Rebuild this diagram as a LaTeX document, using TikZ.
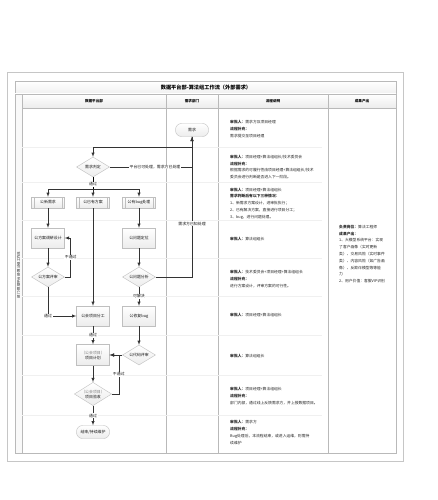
\documentclass[tikz,border=0pt]{standalone}
\usepackage{fontspec}
\setmainfont{Noto Sans CJK SC}
\usetikzlibrary{shapes.geometric}
\newcommand\ftbox{\fontsize{3.9}{5}\selectfont}
\newcommand\fttxt{\fontsize{3.8}{6.8}\selectfont}
\begin{document}
\begin{tikzpicture}[x=1pt, y=-1pt, >=latex,
	box/.style={rectangle, draw=gray!50, top color=white, bottom color=gray!15, minimum width=33pt, minimum height=20pt, inner sep=0.5pt, font=\ftbox, text=gray!20!black, align=center},
	subbox/.style={box, minimum height=11pt, path picture={
		\draw[gray!50] ([xshift=2.5pt]path picture bounding box.north west) -- ([xshift=2.5pt]path picture bounding box.south west)
		([xshift=-2.5pt]path picture bounding box.north east) -- ([xshift=-2.5pt]path picture bounding box.south east);}},
	dec/.style={diamond, aspect=1.6, draw=gray!50, top color=white, bottom color=gray!15, minimum width=33pt, minimum height=20pt, inner sep=0pt, font=\ftbox, text=gray!20!black, align=center},
	term/.style={box, rounded corners=6pt, minimum height=13pt},
	lbl/.style={fill=white, inner sep=0.6pt, font=\ftbox, text=gray!20!black},
	arr/.style={->, draw=gray!40!black, line width=0.5pt},
	note/.style={anchor=west, align=left, inner sep=0pt, font=\fttxt, text=gray!30!black}]
			%frame
			\fill[white] (0,0) rectangle (438,500);
			\draw[gray!45, line width=1pt] (7,73) rectangle (403,461);
			\draw[gray!55, top color=white, bottom color=gray!12] (15,81) rectangle (396,94);
			\node (title) at (206,87.5){\fontsize{5.2}{6}\selectfont\bfseries 数据平台部-算法组工作流（外部需求）};
			\draw[gray!55, top color=white, bottom color=gray!15] (15,94) rectangle (396,108);
			\draw[gray!55] (15,94) rectangle (396,453);
			\draw[gray!55, fill=gray!5] (15,94) rectangle (22,453);
			\node (lane) at (18.5,275) [rotate=90, font=\fontsize{3.4}{4}\selectfont, text=gray!30!black]{部门-数据平台部-算法组工作流};
			
			%columns and rows
			\foreach \x in {166, 218, 328}{
				\draw[gray!55] (\x,94) -- (\x,453);
			}
			\foreach \x/\t in {94/数据平台部, 192/需求部门, 273/流程说明, 362/成果产出}{
				\node (head\x) at (\x,101.5)[font=\fontsize{3.6}{4}\selectfont\bfseries]{\t};
			}
			\foreach \y in {147, 182, 220, 258, 296, 335, 375, 415}{
				\draw[gray!12] (22,\y) -- (322,\y);
			}
			
			%flow
			\node (need) at (192,130) [term]{需求};
			\node (judge) at (93,167) [dec]{需求判定};
			\node (newreq) at (48,202.5) [subbox]{公新需求};
			\node (oldplan) at (93,202.5) [subbox]{公已有方案};
			\node (bug) at (139,202.5) [subbox]{公有bug处理};
			\node (design) at (48,238) [box]{公方案调研设计};
			\node (locate) at (139,238) [box]{公问题定位};
			\node (review) at (48,277) [dec]{公方案评审};
			\node (analyze) at (139,277) [dec]{公问题分析};
			\node (assign) at (93,316) [box]{公会项目分工};
			\node (fix) at (139,316) [box]{公修复bug};
			\node (plan) at (93,355) [box, minimum height=21pt]{{\color{gray}（公会项目）}\\项目计划};
			\node (code) at (139,355) [dec]{公代码评审};
			\node (accept) at (93,394) [dec]{{\color{gray}（公会项目）}\\项目验收};
			\node (finish) at (93,432) [term]{结束/持续维护};
			\coordinate (fork) at (93,189);
			
			\draw[arr] (need.south) -- ++(0,10.5) -| (judge.north);
			\draw[arr] (judge.east) -- node[lbl, pos=0.55]{平台已可处理，需求方已处理} (judge.east -| need.south) -- (need.south);
			\draw (judge.south) -- node[lbl, pos=0.6]{通过} (fork);
			\draw[arr] (fork) -| (newreq.north);
			\draw[arr] (fork) -- (oldplan.north);
			\draw[arr] (fork) -| (bug.north);
			\draw[arr] (newreq) -- (design);
			\draw[arr] (design) -- (review);
			\draw[arr] (review.east) -- ++(6,0) |- node[lbl, pos=0.25]{不通过} (design.east);
			\draw[arr] (review.south) |- node[lbl, pos=0.5]{通过} (assign.west);
			\draw[arr] (oldplan) -- (assign);
			\draw[arr] (bug) -- (locate);
			\draw[arr] (locate) -- (analyze);
			\draw[arr] (analyze.east) -| node[lbl, pos=0.69]{需求方已知处理} (need.south);
			\draw[arr] (analyze) -- node[lbl]{可解决} (fix);
			\draw[arr] (assign) -- node[lbl]{通过} (plan);
			\draw[arr] (fix) -- (code);
			\draw[arr] (code) -- (plan);
			\draw[arr] (plan) -- (accept);
			\draw[arr] (accept.east) -- ++(7,0) |- node[lbl, pos=0.25]{不通过} (plan.east);
			\draw[arr] (accept) -- node[lbl]{通过} (finish);
			
			%notes
			\node (r1) at (230,129) [note]{\textbf{审批人：}需求方及项目经理\\\textbf{流程补充：}\\需求提交至项目经理};
			\node (r2) at (230,167) [note]{\textbf{审批人：}项目经理+算法组组长/技术委员会\\\textbf{流程补充：}\\根据需求的可履行性由项目经理+算法组组长/技术\\委员会进行判断是否进入下一阶段。};
			\node (r3) at (230,203.5) [note]{\textbf{审批人：}项目经理+算法组组长\\\textbf{需求判断后有以下三种情况：}\\1、新需求方案设计，进审批执行；\\2、已有解决方案，直接进行项目分工；\\3、bug，进行问题处理。};
			\node (r4) at (230,239) [note]{\textbf{审批人：}算法组组长};
			\node (r5) at (230,279) [note]{\textbf{审批人：}技术委员会+项目经理+算法组组长\\\textbf{流程补充：}\\进行方案设计，评审方案的可行性。};
			\node (r6) at (230,315) [note]{\textbf{审批人：}项目经理+算法组组长};
			\node (r7) at (230,356) [note]{\textbf{审批人：}算法组组长};
			\node (r8) at (230,396) [note]{\textbf{审批人：}项目经理+算法组组长\\\textbf{流程补充：}\\部门内部，通过线上反馈需求方，并上报数据项目。};
			\node (r9) at (230,432.5) [note]{\textbf{审批人：}需求方\\\textbf{流程补充：}\\Bug处理后，本流程结束，或进入运维，则需持\\续维护};
			\node (out) at (339,254) [note]{\textbf{负责岗位：}算法工程师\\\textbf{成果产出：}\\1、大模型系统平台：实现\\了客户画像（实时更新\\类）、交易风险（实时事件\\类）、内容风险（如广告画\\像）、反欺诈模型等等能\\力\\2、用户价值：客服VIP识别};
		\end{tikzpicture}
\end{document}
